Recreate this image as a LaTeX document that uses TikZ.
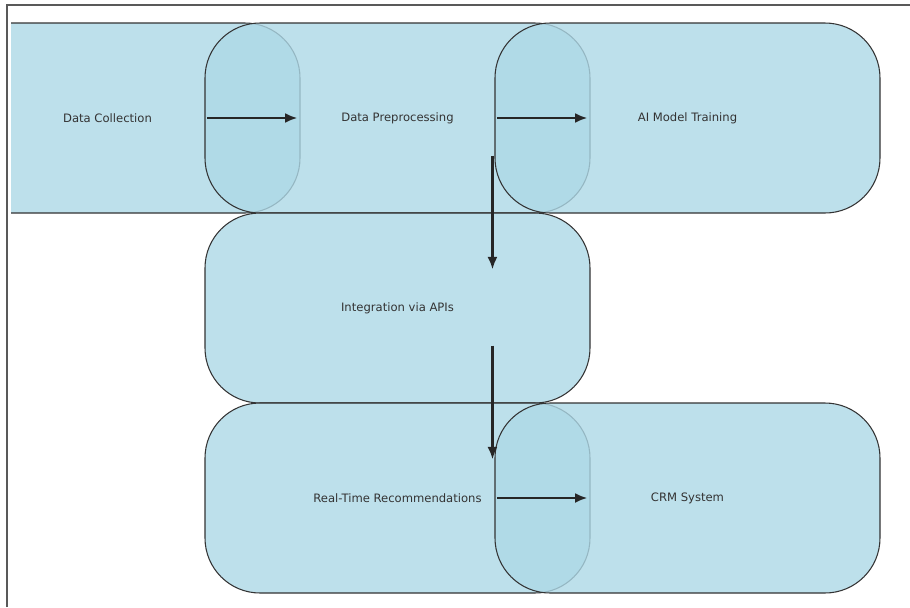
\documentclass[tikz,border=0pt]{standalone}
\usepackage{fontspec}
\setmainfont{DejaVu Sans}
\usepackage{tikz}
\usepackage{xcolor}
\usetikzlibrary{arrows.meta}

\definecolor{stageblue}{HTML}{ADD8E6}

\begin{document}
\begin{tikzpicture}[
        stage/.style={rectangle, rounded corners=1.1cm, draw=black!80, line width=0.6pt, fill=stageblue, fill opacity=0.8, text opacity=1, text=black!80, minimum width=7.7cm, minimum height=3.8cm, inner sep=0pt, font=\fontsize{6.6}{8}\selectfont},
        flow/.style={-{Latex[length=0.25cm, width=0.2cm]}, line width=1.4pt, black!85}
    ]
            \useasboundingbox (0, 0) rectangle (18.2, -12.14);
            \draw[black!65, line width=0.6pt] (0.14, -12.14) -- (0.14, -0.1) -- (18.2, -0.1);

            \begin{scope}
            \clip (0.22, -0.1) rectangle (18.2, -12.14);
            \node[stage] (collect) at (2.15, -2.36) {Data Collection};
            \node[stage] (prep) at (7.95, -2.36) {Data Preprocessing};
            \node[stage] (ai) at (13.75, -2.36) {AI Model Training};
            \node[stage] (api) at (7.95, -6.16) {Integration via APIs};
            \node[stage] (recs) at (7.95, -9.96) {Real-Time Recommendations};
            \node[stage] (crm) at (13.75, -9.96) {CRM System};
            \end{scope}

            \draw[flow, shorten <=0.06cm, shorten >=0.06cm] (prep.west) -- (collect.east);
            \draw[flow, shorten <=0.06cm, shorten >=0.06cm] (ai.west) -- (prep.east);
            \draw[flow] ([xshift=-0.04cm, yshift=1.16cm]prep.south -| ai.west) -- ([xshift=-0.04cm, yshift=-1.14cm]api.north -| ai.west);
            \draw[flow] ([xshift=-0.04cm, yshift=1.16cm]api.south -| crm.west) -- ([xshift=-0.04cm, yshift=-1.14cm]recs.north -| crm.west);
            \draw[flow, shorten <=0.06cm, shorten >=0.06cm] (crm.west) -- (recs.east);
        \end{tikzpicture}
\end{document}
